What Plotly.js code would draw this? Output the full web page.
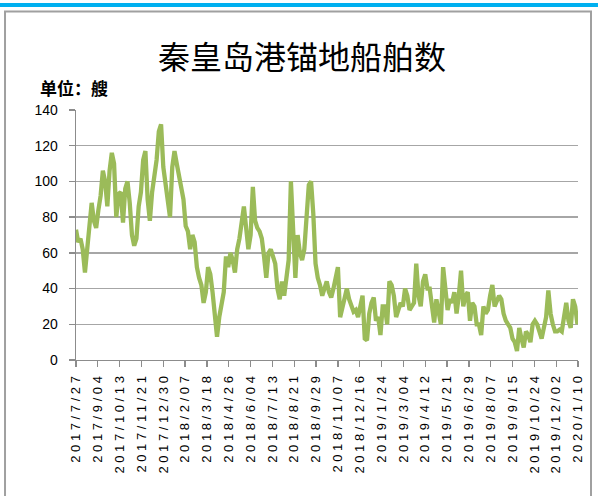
<!DOCTYPE html>
<html>
<head>
<meta charset="utf-8">
<script src="https://cdn.plot.ly/plotly-3.0.1.min.js"></script>
<style>
html, body { margin: 0; padding: 0; background: #fff; }
#chart { width: 598px; height: 496px; }
.xaxislayer-above .xtick text { letter-spacing: 3.6px; }
</style>
</head>
<body>
<div id="chart"></div>
<script>
const dates = [
"2017-07-27","2017-07-31",
"2017-08-04","2017-08-08","2017-08-12","2017-08-16","2017-08-20","2017-08-24","2017-08-28",
"2017-09-01","2017-09-05","2017-09-09","2017-09-13","2017-09-17","2017-09-21","2017-09-25","2017-09-29",
"2017-10-03","2017-10-07","2017-10-11","2017-10-15","2017-10-19","2017-10-23","2017-10-27","2017-10-31",
"2017-11-04","2017-11-08","2017-11-12","2017-11-16","2017-11-20","2017-11-24","2017-11-28",
"2017-12-02","2017-12-06","2017-12-10","2017-12-14","2017-12-18","2017-12-22","2017-12-26","2017-12-30",
"2018-01-03","2018-01-07","2018-01-11","2018-01-15","2018-01-19","2018-01-23","2018-01-27","2018-01-31",
"2018-02-04","2018-02-08","2018-02-12","2018-02-16","2018-02-20","2018-02-24","2018-02-28",
"2018-03-04","2018-03-08","2018-03-12","2018-03-16","2018-03-20","2018-03-24","2018-03-28",
"2018-04-01","2018-04-05","2018-04-09","2018-04-13","2018-04-17","2018-04-21","2018-04-25","2018-04-29",
"2018-05-03","2018-05-07","2018-05-11","2018-05-15","2018-05-19","2018-05-23","2018-05-27","2018-05-31",
"2018-06-04","2018-06-08","2018-06-12","2018-06-16","2018-06-20","2018-06-24","2018-06-28",
"2018-07-02","2018-07-06","2018-07-10","2018-07-14","2018-07-18","2018-07-22","2018-07-26","2018-07-30",
"2018-08-03","2018-08-07","2018-08-11","2018-08-15","2018-08-19","2018-08-23","2018-08-27","2018-08-31",
"2018-09-04","2018-09-08","2018-09-12","2018-09-16","2018-09-20","2018-09-24","2018-09-28",
"2018-10-02","2018-10-06","2018-10-10","2018-10-14","2018-10-18","2018-10-22","2018-10-26","2018-10-30",
"2018-11-03","2018-11-07","2018-11-11","2018-11-15","2018-11-19","2018-11-23","2018-11-27",
"2018-12-01","2018-12-05","2018-12-09","2018-12-13","2018-12-17","2018-12-21","2018-12-25","2018-12-29",
"2019-01-02","2019-01-06","2019-01-10","2019-01-14","2019-01-18","2019-01-22","2019-01-26","2019-01-30",
"2019-02-03","2019-02-07","2019-02-11","2019-02-15","2019-02-19","2019-02-23","2019-02-27",
"2019-03-03","2019-03-07","2019-03-11","2019-03-15","2019-03-19","2019-03-23","2019-03-27","2019-03-31",
"2019-04-04","2019-04-08","2019-04-12","2019-04-16","2019-04-20","2019-04-24","2019-04-28",
"2019-05-02","2019-05-06","2019-05-10","2019-05-14","2019-05-18","2019-05-22","2019-05-26","2019-05-30",
"2019-06-03","2019-06-07","2019-06-11","2019-06-15","2019-06-19","2019-06-23","2019-06-27",
"2019-07-01","2019-07-05","2019-07-09","2019-07-13","2019-07-17","2019-07-21","2019-07-25","2019-07-29",
"2019-08-02","2019-08-06","2019-08-10","2019-08-14","2019-08-18","2019-08-22","2019-08-26","2019-08-30",
"2019-09-03","2019-09-07","2019-09-11","2019-09-15","2019-09-19","2019-09-23","2019-09-27",
"2019-10-01","2019-10-05","2019-10-09","2019-10-13","2019-10-17","2019-10-21","2019-10-25","2019-10-29",
"2019-11-02","2019-11-06","2019-11-10","2019-11-14","2019-11-18","2019-11-22","2019-11-26","2019-11-30",
"2019-12-04","2019-12-08","2019-12-12","2019-12-16","2019-12-20","2019-12-24","2019-12-28",
"2020-01-01","2020-01-05","2020-01-09","2020-01-10"
];

const ships = [
73,66,68,62,49,63,80,88,78,74,
84,92,106,100,86,106,116,110,80,93,
94,77,96,100,88,70,64,68,86,94,
112,117,90,78,94,102,112,128,132,108,
98,88,80,108,117,110,104,96,90,75,
72,62,70,66,52,46,42,32,38,52,
48,38,25,13,24,32,38,58,52,60,
56,49,62,68,79,86,74,62,70,97,
78,74,72,68,58,46,60,62,58,54,
40,34,44,36,46,56,100,74,46,70,
60,56,62,80,98,100,82,54,46,42,
36,40,44,38,35,40,46,52,24,30,
36,40,34,30,27,28,24,30,36,12,
11,26,32,35,22,24,14,30,30,20,
44,42,36,24,28,32,30,40,36,28,
30,32,54,36,30,44,48,40,40,30,
21,34,28,20,52,40,28,34,32,38,
26,36,50,30,36,38,22,32,30,20,
20,14,30,26,28,36,42,30,34,36,
34,26,22,20,18,12,10,5,18,12,
7,16,14,10,20,22,20,16,12,18,
24,39,26,20,16,16,17,16,24,32,
22,18,34,30,20,26
];

const tickDates = [
"2017-07-27","2017-09-04","2017-10-13","2017-11-21","2017-12-30","2018-02-07",
"2018-03-18","2018-04-26","2018-06-04","2018-07-13","2018-08-21","2018-09-29",
"2018-11-07","2018-12-16","2019-01-24","2019-03-04","2019-04-12","2019-05-21",
"2019-06-29","2019-08-07","2019-09-15","2019-10-24","2019-12-02","2020-01-10"
];
const tickLabels = [
"2017/7/27","2017/9/04","2017/10/13","2017/11/21","2017/12/30","2018/2/07",
"2018/3/18","2018/4/26","2018/6/04","2018/7/13","2018/8/21","2018/9/29",
"2018/11/07","2018/12/16","2019/1/24","2019/3/04","2019/4/12","2019/5/21",
"2019/6/29","2019/8/07","2019/9/15","2019/10/24","2019/12/02","2020/1/10"
];

const titleText = "秦皇岛港锚地船舶数";
const unitText = "单位：艘";

const trace = {
  x: dates,
  y: ships,
  type: "scatter",
  mode: "lines",
  line: { color: "#9BBB59", width: 4.3 },
  hoverinfo: "x+y"
};

const layout = {
  width: 598,
  height: 496,
  margin: { l: 76, r: 20, t: 110, b: 136, pad: 0 },
  paper_bgcolor: "#ffffff",
  plot_bgcolor: "#ffffff",
  showlegend: false,
  title: {
    text: titleText,
    font: { family: "Noto Sans CJK SC", size: 32, color: "#000000" },
    xref: "container", yref: "container",
    x: 0.505, xanchor: "center",
    y: 0.883, yanchor: "middle"
  },
  xaxis: {
    type: "date",
    range: ["2017-07-27", "2020-01-10"],
    tickmode: "array",
    tickvals: tickDates,
    ticktext: tickLabels,
    tickangle: -90,
    tickfont: { family: "Liberation Sans, Arial, sans-serif", size: 13, color: "#000000" },
    ticks: "outside",
    ticklen: 6,
    tickcolor: "#8c8c8c",
    tickwidth: 1.3,
    showline: true,
    linecolor: "#8c8c8c",
    linewidth: 1.3,
    showgrid: false,
    zeroline: false,
    fixedrange: true
  },
  yaxis: {
    range: [0, 140],
    dtick: 20,
    tick0: 0,
    tickfont: { family: "Liberation Sans, Arial, sans-serif", size: 14, color: "#000000" },
    ticks: "outside",
    ticklen: 6,
    tickcolor: "#8c8c8c",
    tickwidth: 1.3,
    ticklabelstandoff: 8,
    showline: true,
    linecolor: "#8c8c8c",
    linewidth: 1.3,
    showgrid: true,
    gridcolor: "#a6a6a6",
    gridwidth: 1.4,
    zeroline: false,
    fixedrange: true
  },
  annotations: [
    {
      text: "<b>" + unitText + "</b>",
      xref: "paper", yref: "paper",
      x: -0.0757, xanchor: "left",
      y: 1.088, yanchor: "middle",
      showarrow: false,
      font: { family: "Noto Sans CJK SC", size: 17, color: "#000000" }
    }
  ],
  shapes: [
    {
      type: "rect", xref: "paper", yref: "paper", layer: "below",
      x0: -0.1514, x1: 1.0398, y0: 1.412, y1: 1.428,
      fillcolor: "#00B0F0", line: { width: 0 }
    },
    {
      type: "rect", xref: "paper", yref: "paper", layer: "below",
      x0: -0.1414, x1: 1.0259, y0: -0.64, y1: 1.394,
      fillcolor: "rgba(0,0,0,0)", line: { color: "#a0a0a0", width: 2 }
    }
  ]
};

Plotly.newPlot("chart", [trace], layout, { displayModeBar: false, staticPlot: true });
</script>
</body>
</html>
